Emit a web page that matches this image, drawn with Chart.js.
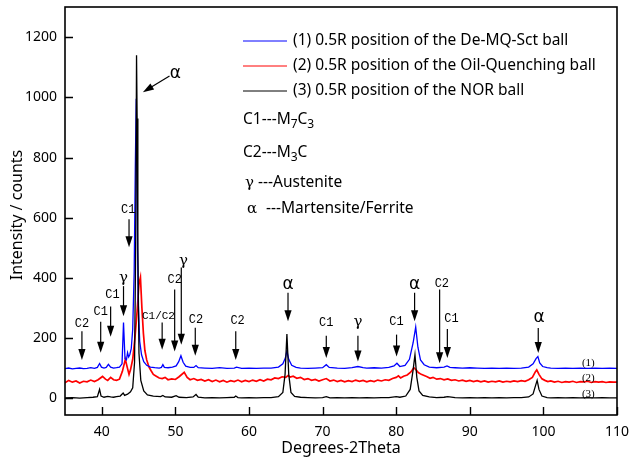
<!DOCTYPE html>
<html>
<head>
<meta charset="utf-8">
<script src="https://cdn.jsdelivr.net/npm/chart.js@4.4.1/dist/chart.umd.min.js"></script>
<style>
  html, body { margin: 0; padding: 0; background: #fff; }
  #wrap { width: 631px; height: 468px; }
</style>
</head>
<body>
<div id="wrap"><canvas id="xrd" width="631" height="468"></canvas></div>
<script>
// ---- XRD patterns (2θ in degrees, intensity in counts) ----
const seriesLabels = [
  '(1) 0.5R position of the De-MQ-Sct ball',
  '(2) 0.5R position of the Oil-Quenching ball',
  '(3) 0.5R position of the NOR ball'
];
const curveTags = ['(1)', '(2)', '(3)'];

const patternDeMQ = [
  [35,99],[35.5,101],[36,98],[36.5,100],[37,101],[37.5,99],[38,100],[38.5,102],[39,100],[39.4,103],
  [39.7,116],[39.95,104],[40.3,101],[40.6,103],[40.9,113],[41.2,104],[41.6,101],[42,102],[42.4,104],[42.75,115],
  [42.95,252],[43.15,132],[43.35,128],[43.5,152],[43.65,138],[43.8,145],[44.0,165],[44.2,230],[44.4,420],[44.55,760],
  [44.68,995],[44.8,620],[44.95,320],[45.15,190],[45.4,145],[45.7,122],[46.1,110],[46.6,104],[47.2,102],[47.8,101],
  [48.1,103],[48.3,112],[48.5,103],[49,102],[49.6,104],[50.1,108],[50.45,122],[50.75,142],[51.05,120],[51.4,107],
  [52,103],[52.5,103],[52.8,109],[53.1,102],[54,101],[55,100],[56,102],[57,100],[58,101],[58.3,104],
  [59,100],[60,101],[61,100],[62,101],[63,101],[64,104],[64.6,115],[64.95,135],[65.15,158],[65.4,130],
  [65.8,110],[66.4,103],[67,101],[68,100],[69,101],[70,102],[70.5,112],[70.9,103],[72,101],[73,100],
  [74,102],[74.8,106],[75.5,102],[76,101],[77,102],[78,101],[79,103],[79.7,108],[80.1,117],[80.5,106],
  [81.2,110],[81.8,130],[82.3,185],[82.65,237],[82.95,170],[83.3,128],[83.8,112],[84.5,104],[85.5,102],[86.5,104],
  [86.9,108],[87.3,103],[88,102],[89,101],[90,102],[91,101],[92,100],[93,101],[94,100],[95,101],
  [96,100],[97,101],[98,104],[98.6,115],[99.0,132],[99.25,139],[99.5,118],[99.9,106],[100.5,102],[101,101],
  [102,100],[103,101],[104,100],[105,101],[106,100],[107,101],[108,100],[109,101],[110,100]
];

const patternOilQ = [
  [35,52],[35.5,60],[36,54],[36.5,58],[37,51],[37.5,57],[38,55],[38.5,61],[39,56],[39.5,62],
  [40.1,73],[40.5,64],[40.8,60],[41.2,70],[41.6,62],[42,60],[42.4,64],[42.8,90],[43.2,130],[43.45,104],
  [43.7,80],[43.9,95],[44.2,130],[44.5,200],[44.8,290],[45.05,380],[45.25,402],[45.45,300],[45.65,217],[45.85,160],
  [46.1,128],[46.4,105],[46.7,92],[47,80],[47.4,74],[47.8,68],[48.2,66],[48.6,70],[49,62],[49.5,65],
  [50,63],[50.5,72],[51.2,87],[51.6,70],[52,62],[52.5,66],[53,60],[53.5,63],[54,58],[54.5,62],
  [55,56],[55.5,61],[56,55],[56.5,60],[57,54],[57.5,59],[58,56],[58.5,61],[59,55],[59.5,60],
  [60,56],[60.5,61],[61,57],[61.5,62],[62,58],[62.5,64],[63,62],[63.5,68],[64,66],[64.5,72],
  [65,70],[65.3,76],[65.6,71],[66,74],[66.5,67],[67,70],[67.5,63],[68,66],[68.5,60],[69,63],
  [69.5,58],[70,62],[70.5,66],[71,58],[71.5,61],[72,56],[72.5,60],[73,55],[73.5,59],[74,56],
  [74.5,61],[75,57],[75.5,60],[76,55],[76.5,59],[77,56],[77.5,61],[78,58],[78.5,62],[79,60],
  [79.5,66],[80,70],[80.3,75],[80.6,68],[81,74],[81.5,78],[82,88],[82.4,102],[82.7,95],[83,86],
  [83.4,80],[83.8,76],[84.2,72],[84.6,67],[85,70],[85.5,64],[86,66],[86.5,62],[87,65],[87.5,60],
  [88,62],[88.5,58],[89,61],[89.5,57],[90,60],[90.5,56],[91,59],[91.5,55],[92,58],[92.5,54],
  [93,57],[93.5,55],[94,58],[94.5,54],[95,57],[95.5,55],[96,58],[96.5,56],[97,59],[97.5,57],
  [98,62],[98.5,70],[98.9,88],[99.1,95],[99.4,80],[99.8,65],[100.2,60],[100.6,56],[101,58],[101.5,54],
  [102,57],[102.5,53],[103,56],[103.5,54],[104,57],[104.5,53],[105,56],[105.5,55],[106,57],[106.5,53],
  [107,56],[107.5,54],[108,56],[108.5,53],[109,55],[109.5,54],[110,54]
];

const patternNOR = [
  [35,2],[36,3],[37,1],[38,3],[38.8,4],[39.4,6],[39.7,30],[39.9,8],[40.3,4],[40.8,7],
  [41.2,5],[41.6,4],[42,6],[42.5,8],[42.9,18],[43.1,10],[43.5,14],[43.9,22],[44.2,35],[44.45,120],
  [44.6,500],[44.72,1140],[44.8,930],[44.9,500],[45.05,150],[45.3,60],[45.7,25],[46.2,12],[47,8],[48,6],
  [48.3,10],[48.6,5],[49.5,4],[50.1,9],[50.5,4],[51.5,3],[52.4,5],[52.8,13],[53.1,4],[54,2],
  [55,3],[56,2],[57,3],[58,4],[58.2,8],[58.5,3],[59,2],[60,3],[61,2],[62,3],
  [63,3],[64,6],[64.6,20],[64.9,80],[65.15,214],[65.4,80],[65.7,20],[66.2,7],[67,4],[68,3],
  [69,2],[70,3],[70.5,6],[71,2],[72,3],[73,2],[74,3],[75,2],[76,3],[77,2],
  [78,3],[79,3],[80,6],[80.5,4],[81.3,8],[81.9,30],[82.3,95],[82.55,145],[82.8,70],[83.1,25],
  [83.6,10],[84.5,5],[85.5,3],[86.5,4],[87,6],[88,3],[89,2],[90,3],[91,2],[92,3],
  [93,2],[94,3],[95,2],[96,3],[97,3],[98,5],[98.6,15],[98.9,40],[99.15,60],[99.4,30],
  [99.8,8],[100.5,3],[101,2],[102,3],[103,2],[104,3],[105,2],[106,3],[107,2],[108,3],
  [109,2],[110,2]
];

// curve tags sit just above each pattern's flat tail
const curveTagLevels = [116, 68, 15];

// axis ticks
const xTickValues = [40, 50, 60, 70, 80, 90, 100, 110];
const yTickValues = [0, 200, 400, 600, 800, 1000, 1200];

// phase markers: [text, x of arrow, text centre y, arrow top y, arrow tip y, style, text x]
const phaseMarks = [
  ['C2', 37.3, 248, 223, 128, 'mono'],
  ['C1', 39.85, 289, 255, 152, 'mono'],
  ['C1', 41.2, 345, 305, 205, 'mono', 41.45],
  ['\u03B3', 42.95, 398, 373, 273, 'greek'],
  ['C1', 43.7, 628, 595, 502, 'mono', 43.6],
  ['C1/C2', 48.2, 275, 252, 162, 'small', 47.7],
  ['C2', 49.9, 395, 362, 156, 'mono'],
  ['\u03B3', 50.8, 456, 435, 178, 'greek', 51.1],
  ['C2', 52.7, 262, 235, 142, 'mono', 52.8],
  ['C2', 58.2, 259, 223, 128, 'mono', 58.45],
  ['\u03B1', 65.3, 378, 351, 256, 'alpha'],
  ['C1', 70.5, 250, 208, 134, 'mono'],
  ['\u03B3', 74.8, 252, 208, 123, 'greek'],
  ['C1', 80.05, 255, 212, 139, 'mono'],
  ['\u03B1', 82.5, 378, 351, 256, 'alpha'],
  ['C2', 85.9, 382, 362, 117, 'mono', 86.2],
  ['C1', 86.95, 264, 231, 134, 'mono', 87.5],
  ['\u03B1', 99.3, 267, 234, 151, 'alpha', 99.4]
];
// the main ferrite peak is marked with a slanted arrow
const mainPeakMark = { text: '\u03B1', textAt: [50.0, 1078], from: [49.2, 1071], to: [45.58, 1017] };

const phaseKey = [
  ['C1---M', '7', 'C', '3'],
  ['C2---M', '3', 'C', '']
];
const phaseNotes = [['\u03B3', '---Austenite', 258], ['\u03B1', '---Martensite/Ferrite', 266]];

const colors = ['#0000ff', '#ff0000', '#000000'];

function toXY(list) { return list.map(p => ({ x: p[0], y: p[1] })); }

const FONT = '"Noto Sans", "Open Sans", sans-serif';
const KEY_FONT = '15.5px ' + FONT;
const SUB_FONT = '12px ' + FONT;

function arrowHead(ctx, x1, y1, x2, y2, len, half) {
  const ang = Math.atan2(y2 - y1, x2 - x1);
  ctx.beginPath();
  ctx.moveTo(x2, y2);
  ctx.lineTo(x2 - len * Math.cos(ang) + half * Math.sin(ang), y2 - len * Math.sin(ang) - half * Math.cos(ang));
  ctx.lineTo(x2 - len * Math.cos(ang) - half * Math.sin(ang), y2 - len * Math.sin(ang) + half * Math.cos(ang));
  ctx.closePath();
  ctx.fill();
}
function arrow(ctx, x1, y1, x2, y2) {
  const ang = Math.atan2(y2 - y1, x2 - x1);
  const len = 11;
  ctx.beginPath();
  ctx.moveTo(x1, y1);
  ctx.lineTo(x2 - (len - 2) * Math.cos(ang), y2 - (len - 2) * Math.sin(ang));
  ctx.stroke();
  arrowHead(ctx, x1, y1, x2, y2, len, 3.6);
}

const decorations = {
  id: 'decorations',
  afterDraw(chart) {
    const { ctx, chartArea: a, scales: { x, y } } = chart;
    ctx.save();

    // frame and inward ticks
    ctx.strokeStyle = '#000';
    ctx.lineWidth = 1.6;
    ctx.strokeRect(a.left, a.top, a.right - a.left, a.bottom - a.top);
    ctx.lineWidth = 1.4;
    ctx.beginPath();
    xTickValues.forEach(v => {
      const px = Math.round(x.getPixelForValue(v)) + 0.5;
      ctx.moveTo(px, a.bottom); ctx.lineTo(px, a.bottom - 8);
    });
    yTickValues.forEach(v => {
      const py = Math.round(y.getPixelForValue(v)) + 0.5;
      ctx.moveTo(a.left, py); ctx.lineTo(a.left + 8, py);
    });
    ctx.stroke();

    // axis titles
    ctx.fillStyle = '#000';
    ctx.font = '16px ' + FONT;
    ctx.textAlign = 'center';
    ctx.textBaseline = 'middle';
    ctx.fillText('Degrees-2Theta', (a.left + a.right) / 2, 448);
    ctx.save();
    ctx.translate(17, 215);
    ctx.rotate(-Math.PI / 2);
    ctx.fillText('Intensity / counts', 0, 0);
    ctx.restore();

    // series key
    ctx.textAlign = 'left';
    ctx.font = KEY_FONT;
    seriesLabels.forEach((t, i) => {
      const ly = 41 + i * 25;
      ctx.strokeStyle = colors[i];
      ctx.lineWidth = 1;
      ctx.beginPath(); ctx.moveTo(243, ly); ctx.lineTo(287, ly); ctx.stroke();
      ctx.fillText(t, 293, ly);
    });

    // phase key with subscripts
    phaseKey.forEach((parts, i) => {
      const ly = 120 + i * 33;
      let px = 243;
      ctx.font = KEY_FONT;
      ctx.fillText(parts[0], px, ly); px += ctx.measureText(parts[0]).width;
      ctx.font = SUB_FONT;
      ctx.fillText(parts[1], px, ly + 5); px += ctx.measureText(parts[1]).width;
      ctx.font = KEY_FONT;
      ctx.fillText(parts[2], px, ly); px += ctx.measureText(parts[2]).width;
      ctx.font = SUB_FONT;
      ctx.fillText(parts[3], px, ly + 5);
    });
    phaseNotes.forEach((p, i) => {
      const ly = 183 + i * 26;
      ctx.font = '15px "DejaVu Serif", serif';
      ctx.fillText(p[0], 245 + i * 2, ly);
      ctx.font = KEY_FONT;
      ctx.fillText(p[1], p[2], ly);
    });

    // curve tags at the right end
    ctx.font = '11px "Liberation Serif", serif';
    ctx.textAlign = 'center';
    curveTags.forEach((t, i) => {
      ctx.fillText(t, x.getPixelForValue(106.1), y.getPixelForValue(curveTagLevels[i]));
    });

    // phase markers
    ctx.strokeStyle = '#000';
    ctx.fillStyle = '#000';
    ctx.lineWidth = 1.2;
    phaseMarks.forEach(m => {
      const ax = x.getPixelForValue(m[1]);
      const tx = x.getPixelForValue(m[6] !== undefined ? m[6] : m[1]);
      if (m[5] === 'mono') ctx.font = '12px "Liberation Mono", monospace';
      else if (m[5] === 'small') ctx.font = '11px "Liberation Mono", monospace';
      else if (m[5] === 'greek') ctx.font = '15px "DejaVu Serif", serif';
      else ctx.font = '17px "DejaVu Sans", sans-serif';
      ctx.fillText(m[0], tx, y.getPixelForValue(m[2]));
      arrow(ctx, ax, y.getPixelForValue(m[3]), ax, y.getPixelForValue(m[4]));
    });
    ctx.font = '17px "DejaVu Sans", sans-serif';
    ctx.fillText(mainPeakMark.text, x.getPixelForValue(mainPeakMark.textAt[0]), y.getPixelForValue(mainPeakMark.textAt[1]));
    arrow(ctx,
      x.getPixelForValue(mainPeakMark.from[0]), y.getPixelForValue(mainPeakMark.from[1]),
      x.getPixelForValue(mainPeakMark.to[0]), y.getPixelForValue(mainPeakMark.to[1]));

    ctx.restore();
  }
};

new Chart(document.getElementById('xrd'), {
  type: 'line',
  data: {
    datasets: [
      { label: seriesLabels[2], data: toXY(patternNOR), borderColor: colors[2], borderWidth: 1.3, order: 1 },
      { label: seriesLabels[0], data: toXY(patternDeMQ), borderColor: colors[0], borderWidth: 1.3, order: 2 },
      { label: seriesLabels[1], data: toXY(patternOilQ), borderColor: colors[1], borderWidth: 1.7, order: 3 }
    ]
  },
  options: {
    responsive: false,
    animation: false,
    devicePixelRatio: 1,
    elements: { point: { radius: 0 }, line: { tension: 0 } },
    layout: { padding: { left: 0, right: 14, top: 7, bottom: 0 } },
    plugins: { legend: { display: false }, tooltip: { enabled: false } },
    scales: {
      x: {
        type: 'linear', min: 35, max: 110,
        grid: { display: false, drawTicks: false },
        border: { display: false },
        afterBuildTicks: s => { s.ticks = xTickValues.map(v => ({ value: v })); },
        afterFit: s => { s.height = 53; s.paddingLeft = 0; s.paddingRight = 0; },
        ticks: { padding: 9, color: '#000', font: { family: FONT, size: 14 }, maxRotation: 0, autoSkip: false,
                 callback: v => String(v) }
      },
      y: {
        type: 'linear', min: -55, max: 1300,
        grid: { display: false, drawTicks: false },
        border: { display: false },
        afterBuildTicks: s => { s.ticks = yTickValues.map(v => ({ value: v })); },
        afterFit: s => { s.width = 65; s.paddingTop = 0; s.paddingBottom = 0; },
        ticks: { padding: 8, color: '#000', font: { family: FONT, size: 14 }, callback: v => String(v) }
      }
    }
  },
  plugins: [decorations]
});
</script>
</body>
</html>
